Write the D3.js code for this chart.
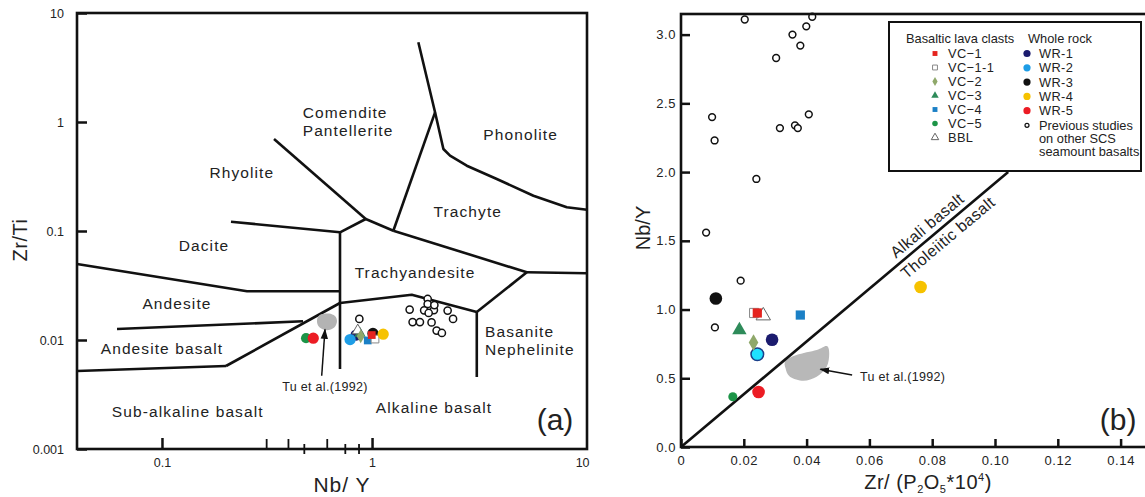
<!DOCTYPE html>
<html>
<head>
<meta charset="utf-8">
<script src="https://cdn.jsdelivr.net/npm/d3@7"></script>
<style>
  body { margin: 0; background: #fff; }
  svg text { font-family: "Liberation Sans", Arial, sans-serif; fill: #222; }
</style>
</head>
<body>
<svg id="chart" width="1145" height="497"></svg>
<script>
// sample names, same order in every array below
var sampleNames = ["VC-1", "VC-1-1", "VC-2", "VC-3", "VC-4", "VC-5", "BBL", "WR-1", "WR-2", "WR-3", "WR-4", "WR-5"];
// panel (a): Nb/Y vs Zr/Ti (log-log)
var aNbY  = [0.997, 1.033, 0.883, 0.877, 0.954, 0.485, 0.855, 0.84, 0.786, 1.01, 1.13, 0.525];
var aZrTi = [0.0111, 0.0102, 0.0108, 0.0115, 0.0099, 0.0104, 0.0122, 0.0111, 0.0101, 0.0115, 0.0113, 0.0104];
// panel (b): Zr/(P2O5*10^4) vs Nb/Y
var bZrP = [0.0243, 0.0233, 0.0231, 0.0186, 0.038, 0.0165, 0.0262, 0.029, 0.0243, 0.0111, 0.0763, 0.0247];
var bNbY = [0.975, 0.975, 0.76, 0.85, 0.96, 0.366, 0.955, 0.78, 0.675, 1.08, 1.164, 0.40];

// previous studies on other SCS seamount basalts
var prevA = [[0.87, 0.0156], [1.51, 0.019], [1.84, 0.0238], [1.84, 0.0214], [1.77, 0.0187], [1.97, 0.0188],
  [1.98, 0.0209], [2.29, 0.0186], [2.43, 0.0156], [1.86, 0.0177], [1.56, 0.0146], [1.69, 0.0146],
  [1.92, 0.0145], [2.03, 0.0122], [2.15, 0.0116]];
var prevB = [[0.0203, 3.11], [0.0418, 3.13], [0.0355, 3.00], [0.0399, 3.06], [0.038, 2.92], [0.0303, 2.83],
  [0.0099, 2.40], [0.0107, 2.23], [0.0315, 2.32], [0.0363, 2.34], [0.0372, 2.32], [0.0407, 2.42],
  [0.024, 1.95], [0.008, 1.56], [0.019, 1.21], [0.0108, 0.87]];

// Tu et al. (1992) field outlines
var tuFieldA = [[0.553, 0.0163], [0.578, 0.0173], [0.624, 0.0175], [0.666, 0.0166], [0.681, 0.0149],
  [0.666, 0.0132], [0.631, 0.0124], [0.591, 0.0124], [0.559, 0.0132], [0.547, 0.0146]];
var tuFieldB = [[0.0333, 0.628], [0.0368, 0.67], [0.0432, 0.706], [0.0464, 0.735], [0.0472, 0.681],
  [0.0464, 0.584], [0.0432, 0.511], [0.039, 0.482], [0.0347, 0.511], [0.0333, 0.572]];

// classification boundaries of panel (a) (Nb/Y, Zr/Ti)
var boundariesA = [
  [[0.3415, 0.698], [0.9333, 0.1288]],
  [[0.9333, 0.1288], [0.7038, 0.0973]],
  [[0.2131, 0.1217], [0.7038, 0.0973]],
  [[0.7038, 0.0973], [0.7038, 0.00542]],
  [[0.9333, 0.1288], [1.263, 0.1006]],
  [[1.263, 0.1006], [1.995, 1.227]],
  [[1.661, 5.385], [1.995, 1.227], [2.186, 0.5653], [2.351, 0.4907], [2.825, 0.3972], [3.925, 0.2999],
   [5.865, 0.2108], [8.456, 0.165], [10.55, 0.1568]],
  [[1.263, 0.1006], [5.454, 0.0418]],
  [[5.454, 0.0418], [10.55, 0.0409]],
  [[5.454, 0.0418], [3.152, 0.01806]],
  [[0.7038, 0.02185], [1.545, 0.02603], [3.152, 0.01806]],
  [[3.152, 0.01806], [3.152, 0.004576]],
  [[0.2017, 0.005775], [0.7038, 0.02185]],
  [[0.0611, 0.01262], [0.4692, 0.01484]],
  [[0.0394, 0.005194], [0.2017, 0.005775]],
  [[0.0394, 0.0498], [0.254, 0.02797], [0.7038, 0.02797]]
];
var fieldNames = ["Rhyolite", "Comendite", "Pantellerite", "Phonolite", "Trachyte", "Dacite", "Andesite",
  "Andesite basalt", "Sub-alkaline basalt", "Trachyandesite", "Basanite", "Nephelinite", "Alkaline basalt"];
var fieldNbY  = [0.240, 0.4677, 0.4677, 5.095, 2.856, 0.1585, 0.1179, 0.1, 0.1326, 1.602, 3.452, 3.452, 1.973];
var fieldZrTi = [0.306, 1.088, 0.744, 0.684, 0.1344, 0.0655, 0.01925, 0.00744, 0.001966, 0.03706, 0.01065, 0.00729, 0.00214];

// alkali / tholeiitic divide of panel (b)
var divideB = [[0, 0], [0.1042, 2.0]];

var xTicksA = [0.1, 1, 10];
var xMinorUpA = [0.315, 0.40, 0.612];
var xMinorCrossA = [0.476, 0.746, 0.867];
var yTicksA = [0.001, 0.01, 0.1, 1, 10];
var yTickLabelsA = ["0.001", "0.01", "0.1", "1", "10"];
var xTicksB = [0, 0.02, 0.04, 0.06, 0.08, 0.10, 0.12, 0.14];
var yTicksB = [0, 0.5, 1.0, 1.5, 2.0, 2.5, 3.0];

// marker look for each sample
var markerStyle = {
  "VC-1":   {shape: d3.symbolSquare,   fill: "#e5241f", stroke: "none"},
  "VC-1-1": {shape: d3.symbolSquare,   fill: "#ffffff", stroke: "#888"},
  "VC-2":   {shape: d3.symbolDiamond,  fill: "#8fa86a", stroke: "none"},
  "VC-3":   {shape: d3.symbolTriangle, fill: "#2e8b5a", stroke: "none"},
  "VC-4":   {shape: d3.symbolSquare,   fill: "#1b80c6", stroke: "none"},
  "VC-5":   {shape: d3.symbolCircle,   fill: "#1c9447", stroke: "none"},
  "BBL":    {shape: d3.symbolTriangle, fill: "#ffffff", stroke: "#666"},
  "WR-1":   {shape: d3.symbolCircle,   fill: "#1b1b6e", stroke: "none"},
  "WR-2":   {shape: d3.symbolCircle,   fill: "#1e9de6", stroke: "none"},
  "WR-3":   {shape: d3.symbolCircle,   fill: "#111111", stroke: "none"},
  "WR-4":   {shape: d3.symbolCircle,   fill: "#f6c200", stroke: "none"},
  "WR-5":   {shape: d3.symbolCircle,   fill: "#ec1c24", stroke: "none"}
};
var drawOrder = ["VC-5", "WR-5", "WR-1", "WR-3", "WR-2", "VC-3", "BBL", "VC-2", "VC-4", "VC-1-1", "VC-1", "WR-4"];

var svg = d3.select("#chart");
svg.append("defs").append("marker").attr("id", "arrow")
  .attr("viewBox", "0 0 10 10").attr("refX", 9).attr("refY", 5)
  .attr("markerWidth", 7).attr("markerHeight", 7).attr("orient", "auto-start-reverse")
  .append("path").attr("d", "M0,1.5 L10,5 L0,8.5 Z").attr("fill", "#111");

// ---------------- panel (a) ----------------
var xa = d3.scaleLog().domain([0.0394, 10.55]).range([77, 587]);
var ya = d3.scaleLog().domain([0.001, 10]).range([449, 13]);
var ga = svg.append("g");

function symbolSize(name, big) {
  var s = markerStyle[name].shape;
  if (name === "VC-5") return big ? 64 : 80;
  if (s === d3.symbolCircle) return big ? 125 : 100;
  if (s === d3.symbolSquare) return big ? 85 : 60;
  if (s === d3.symbolTriangle) return big ? 90 : 55;
  return big ? 80 : 55;
}

var lineA = d3.line().x(function(d){ return xa(d[0]); }).y(function(d){ return ya(d[1]); });
ga.selectAll("path.bound").data(boundariesA).enter().append("path")
  .attr("d", lineA).attr("fill", "none").attr("stroke", "#111").attr("stroke-width", 2.6)
  .attr("stroke-linejoin", "round");

ga.selectAll("text.field").data(fieldNames).enter().append("text")
  .attr("x", function(d, i){ return xa(fieldNbY[i]); })
  .attr("y", function(d, i){ return ya(fieldZrTi[i]); })
  .attr("text-anchor", function(d){ return (d === "Comendite" || d === "Pantellerite" || d === "Basanite" || d === "Nephelinite") ? "start" : "middle"; })
  .attr("font-size", 15.5).attr("letter-spacing", 1.1)
  .text(function(d){ return d; });

ga.append("path").datum(tuFieldA)
  .attr("d", d3.line().curve(d3.curveCardinalClosed).x(function(d){ return xa(d[0]); }).y(function(d){ return ya(d[1]); }))
  .attr("fill", "#b3b3b3");
ga.append("line")
  .attr("x1", xa(0.576)).attr("y1", ya(0.0047)).attr("x2", xa(0.597)).attr("y2", ya(0.0125))
  .attr("stroke", "#111").attr("stroke-width", 1.5).attr("marker-end", "url(#arrow)");
ga.append("text").attr("x", xa(0.597)).attr("y", ya(0.0034)).attr("text-anchor", "middle")
  .attr("font-size", 12.5).attr("letter-spacing", 0.3).text("Tu et al.(1992)");

ga.selectAll("circle.prev").data(prevA).enter().append("circle")
  .attr("cx", function(d){ return xa(d[0]); }).attr("cy", function(d){ return ya(d[1]); })
  .attr("r", 3.6).attr("fill", "#fff").attr("stroke", "#111").attr("stroke-width", 1.5);

ga.selectAll("path.sample").data(drawOrder).enter().append("path")
  .attr("transform", function(d){ var i = sampleNames.indexOf(d); return "translate(" + xa(aNbY[i]) + "," + ya(aZrTi[i]) + ")"; })
  .attr("d", function(d){ return d3.symbol().type(markerStyle[d].shape).size(symbolSize(d, false))(); })
  .attr("fill", function(d){ return markerStyle[d].fill; })
  .attr("stroke", function(d){ return markerStyle[d].stroke; }).attr("stroke-width", 1);

// axes (a)
var axA = ga.append("g").attr("transform", "translate(0,449)")
  .call(d3.axisBottom(xa).tickValues(xTicksA).tickSize(-11).tickPadding(9).tickFormat(function(d){ return d === 0.1 ? "0.1" : d3.format("d")(d); }));
axA.select(".domain").remove();
axA.selectAll(".tick").filter(function(d){ return d === 10; }).select("line").remove();
axA.selectAll(".tick line").attr("stroke", "#111").attr("stroke-width", 2.5);
axA.selectAll(".tick text").attr("font-size", 12.5).attr("fill", "#222");

ga.selectAll("line.minorUp").data(xMinorUpA).enter().append("line")
  .attr("x1", function(d){ return xa(d); }).attr("x2", function(d){ return xa(d); })
  .attr("y1", 449).attr("y2", 439).attr("stroke", "#111").attr("stroke-width", 1.8);
ga.selectAll("line.minorCross").data(xMinorCrossA).enter().append("line")
  .attr("x1", function(d){ return xa(d); }).attr("x2", function(d){ return xa(d); })
  .attr("y1", 444).attr("y2", 454).attr("stroke", "#111").attr("stroke-width", 1.8);

var ayA = ga.append("g").attr("transform", "translate(77,0)")
  .call(d3.axisLeft(ya).tickValues(yTicksA).tickSize(-10).tickPadding(13).tickFormat(function(d, i){ return yTickLabelsA[i]; }));
ayA.select(".domain").remove();
ayA.selectAll(".tick line").attr("stroke", "#111").attr("stroke-width", 2.5);
ayA.selectAll(".tick text").attr("font-size", 12.5).attr("fill", "#222");

ga.append("rect").attr("x", 77).attr("y", 13).attr("width", 510).attr("height", 436)
  .attr("fill", "none").attr("stroke", "#111").attr("stroke-width", 2.6);

ga.append("text").attr("x", 342).attr("y", 492).attr("text-anchor", "middle")
  .attr("font-size", 21).attr("letter-spacing", 1).text("Nb/ Y");
ga.append("text").attr("transform", "translate(27,240) rotate(-90)").attr("text-anchor", "middle")
  .attr("font-size", 20).attr("letter-spacing", 0.5).text("Zr/Ti");
ga.append("text").attr("x", xa(7.43)).attr("y", ya(0.00149)).attr("text-anchor", "middle")
  .attr("font-size", 30).text("(a)");

// ---------------- panel (b) ----------------
var xb = d3.scaleLinear().domain([0, 0.15]).range([681, 1152]);
var yb = d3.scaleLinear().domain([0, 3.15]).range([447, 14]);
var gb = svg.append("g");

gb.append("path").datum(tuFieldB)
  .attr("d", d3.line().curve(d3.curveCardinalClosed).x(function(d){ return xb(d[0]); }).y(function(d){ return yb(d[1]); }))
  .attr("fill", "#b8b8b8");
gb.append("line")
  .attr("x1", xb(0.0545)).attr("y1", yb(0.524)).attr("x2", xb(0.0444)).attr("y2", yb(0.566))
  .attr("stroke", "#111").attr("stroke-width", 1.4).attr("marker-end", "url(#arrow)");
gb.append("text").attr("x", xb(0.057)).attr("y", yb(0.48)).attr("font-size", 12.5).attr("letter-spacing", 0.3).text("Tu et al.(1992)");

gb.append("path").datum(divideB)
  .attr("d", d3.line().x(function(d){ return xb(d[0]); }).y(function(d){ return yb(d[1]); }))
  .attr("stroke", "#111").attr("stroke-width", 2.6).attr("fill", "none");
var ang = Math.atan2(yb(divideB[1][1]) - yb(0), xb(divideB[1][0]) - xb(0)) * 180 / Math.PI;
gb.append("text").attr("transform", "translate(" + xb(0.0795) + "," + yb(1.581) + ") rotate(" + ang + ")")
  .attr("text-anchor", "middle").attr("font-size", 16).attr("letter-spacing", 0.4).text("Alkali basalt");
gb.append("text").attr("transform", "translate(" + xb(0.0861) + "," + yb(1.493) + ") rotate(" + ang + ")")
  .attr("text-anchor", "middle").attr("font-size", 16).attr("letter-spacing", 0.4).text("Tholeiitic basalt");

gb.selectAll("circle.prev").data(prevB).enter().append("circle")
  .attr("cx", function(d){ return xb(d[0]); }).attr("cy", function(d){ return yb(d[1]); })
  .attr("r", 3.4).attr("fill", "#fff").attr("stroke", "#111").attr("stroke-width", 1.5);

gb.selectAll("path.sample").data(drawOrder).enter().append("path")
  .attr("transform", function(d){ var i = sampleNames.indexOf(d); return "translate(" + xb(bZrP[i]) + "," + yb(bNbY[i]) + ")"; })
  .attr("d", function(d){ return d3.symbol().type(markerStyle[d].shape).size(symbolSize(d, true))(); })
  .attr("fill", function(d){ return d === "WR-2" ? "#1fe0ff" : markerStyle[d].fill; })
  .attr("stroke", function(d){ return d === "WR-2" ? "#1a3f8a" : markerStyle[d].stroke; })
  .attr("stroke-width", function(d){ return d === "WR-2" ? 1.5 : 1; });

var axB = gb.append("g").attr("transform", "translate(0,447)")
  .call(d3.axisBottom(xb).tickValues(xTicksB).tickSize(-8).tickPadding(9).tickFormat(function(d){ return d === 0 ? "0" : d3.format(".2f")(d); }));
axB.select(".domain").remove();
axB.selectAll(".tick line").attr("stroke", "#111").attr("stroke-width", 2.5);
axB.selectAll(".tick text").attr("font-size", 13).attr("letter-spacing", 0.6).attr("fill", "#333");

var ayB = gb.append("g").attr("transform", "translate(681,0)")
  .call(d3.axisLeft(yb).tickValues(yTicksB).tickSize(-9).tickPadding(5).tickFormat(d3.format(".1f")));
ayB.select(".domain").remove();
ayB.selectAll(".tick line").attr("stroke", "#111").attr("stroke-width", 2.5);
ayB.selectAll(".tick text").attr("font-size", 13).attr("letter-spacing", 0.6).attr("fill", "#333");

gb.append("rect").attr("x", 681).attr("y", 14).attr("width", 471).attr("height", 433)
  .attr("fill", "none").attr("stroke", "#111").attr("stroke-width", 2.6);

var xl = gb.append("text").attr("x", 928).attr("y", 489).attr("text-anchor", "middle").attr("font-size", 20).attr("letter-spacing", 0.5);
xl.append("tspan").text("Zr/ (P");
xl.append("tspan").attr("font-size", 11).attr("dy", 3.5).text("2");
xl.append("tspan").attr("dy", -3.5).text("O");
xl.append("tspan").attr("font-size", 11).attr("dy", 3.5).text("5");
xl.append("tspan").attr("dy", -3.5).text("*10");
xl.append("tspan").attr("font-size", 11).attr("dy", -8).text("4");
xl.append("tspan").attr("dy", 8).text(")");
gb.append("text").attr("transform", "translate(650,228) rotate(-90)").attr("text-anchor", "middle")
  .attr("font-size", 20).text("Nb/Y");
gb.append("text").attr("x", xb(0.1392)).attr("y", yb(0.124)).attr("text-anchor", "middle")
  .attr("font-size", 30).text("(b)");

// legend
var lg = gb.append("g");
lg.append("rect").attr("x", 889).attr("y", 22).attr("width", 252).attr("height", 149)
  .attr("fill", "#fff").attr("stroke", "#111").attr("stroke-width", 2);
lg.append("text").attr("x", 906).attr("y", 42.5).attr("font-size", 12.8).text("Basaltic lava clasts");
lg.append("text").attr("x", 1028).attr("y", 42.5).attr("font-size", 12.8).text("Whole rock");
var vcNames = sampleNames.slice(0, 7), wrNames = sampleNames.slice(7);
lg.selectAll("g.vc").data(vcNames).enter().append("g")
  .attr("transform", function(d, i){ return "translate(935," + (53.5 + i * 14) + ")"; })
  .each(function(d){
    var g = d3.select(this);
    g.append("path").attr("d", d3.symbol().type(markerStyle[d].shape).size(24)())
      .attr("fill", markerStyle[d].fill).attr("stroke", markerStyle[d].stroke);
    g.append("text").attr("x", 13).attr("y", 4.5).attr("font-size", 12.8).attr("letter-spacing", 0.4).text(d.replace("-", "\u2212"));
  });
lg.selectAll("g.wr").data(wrNames).enter().append("g")
  .attr("transform", function(d, i){ return "translate(1027," + (53.5 + i * 14.3) + ")"; })
  .each(function(d){
    var g = d3.select(this);
    g.append("circle").attr("r", 3.6).attr("fill", markerStyle[d].fill);
    g.append("text").attr("x", 12).attr("y", 4.5).attr("font-size", 12.8).attr("letter-spacing", 0.4).text(d);
  });
lg.append("circle").attr("cx", 1027).attr("cy", 125.3).attr("r", 2).attr("fill", "#fff").attr("stroke", "#111").attr("stroke-width", 1.2);
lg.append("text").attr("x", 1039).attr("y", 129.5).attr("font-size", 12.8).text("Previous studies");
lg.append("text").attr("x", 1039).attr("y", 142.5).attr("font-size", 12.8).text("on other SCS");
lg.append("text").attr("x", 1039).attr("y", 155.5).attr("font-size", 12.8).text("seamount basalts");
</script>
</body>
</html>
